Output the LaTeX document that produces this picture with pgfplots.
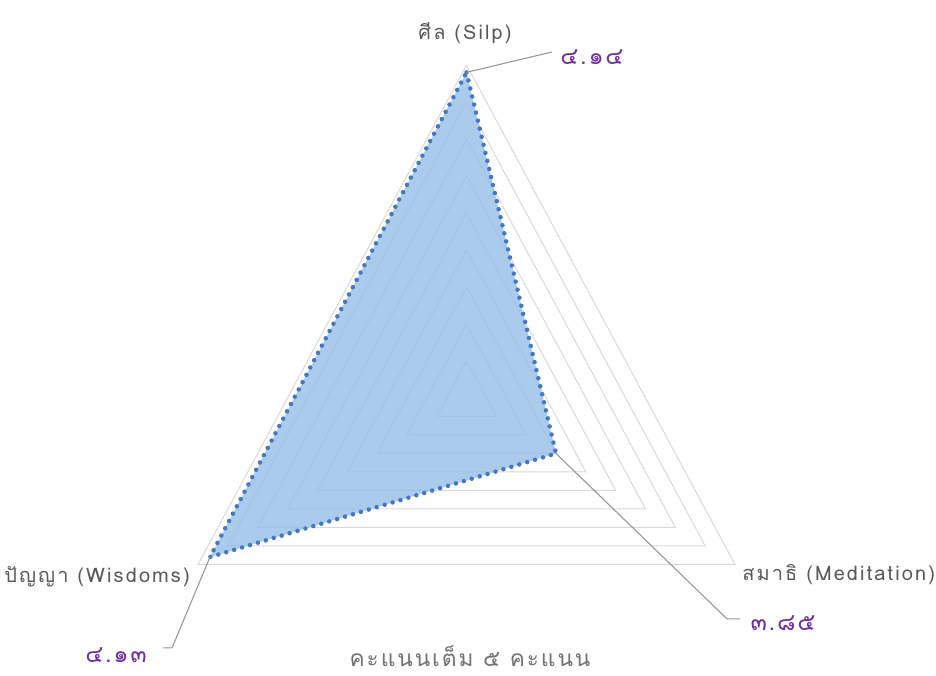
\documentclass[border=0pt]{standalone}
\usepackage{pgfplots}
\pgfplotsset{compat=1.18}
\usepackage{pgfplotstable}
\usepackage{fontspec}
\setmainfont[Script=Thai]{Loma}
\newfontfamily\labfont[Script=Thai, LetterSpace=10.5]{Loma}
\newfontfamily\valfont[Script=Thai, LetterSpace=7]{Loma}
\newfontfamily\titfont[Script=Thai, LetterSpace=8.5]{Loma}

\definecolor{gridc}{RGB}{217,217,217}
\definecolor{fillc}{RGB}{150,190,232}
\definecolor{dotc}{RGB}{70,120,190}
\definecolor{labc}{RGB}{89,89,89}
\definecolor{valc}{RGB}{112,48,160}
\definecolor{leadc}{RGB}{150,150,150}

% angle (deg), score; axis runs 3.70 .. 4.15 in steps of 0.05
\pgfplotstableread{
a    v
90   4.14
-30  3.85
210  4.13
90   4.14
}\scores

\begin{document}
\begin{tikzpicture}
\begin{axis}[
    width=702pt, height=507pt,
    scale only axis,
    axis lines=none,
    xmin=-0.6771, xmax=0.6814,
    ymin=-0.3757, ymax=0.5378,
    clip=false,
]
% triangular grid rings
\pgfplotsinvokeforeach{1,...,9}{
  \addplot[gridc, line width=0.75pt, line join=miter] coordinates {
    (0,{#1*0.05}) ({#1*0.05*cos(-30)},{#1*0.05*sin(-30)})
    ({#1*0.05*cos(210)},{#1*0.05*sin(210)}) (0,{#1*0.05})
  };
}

% score area
\addplot[draw=none, fill=fillc, fill opacity=0.8]
  table[x expr={(\thisrow{v}-3.7)*cos(\thisrow{a})},
        y expr={(\thisrow{v}-3.7)*sin(\thisrow{a})}] {\scores} -- cycle;
\addplot[dotc, line width=3.4pt, line cap=round, dash pattern=on 0pt off 6.2pt]
  table[x expr={(\thisrow{v}-3.7)*cos(\thisrow{a})},
        y expr={(\thisrow{v}-3.7)*sin(\thisrow{a})}] {\scores};

% leader lines
\draw[leadc, line width=0.8pt] (axis cs:0,0.44) -- (axis cs:0.1241,0.4676);
\draw[leadc, line width=0.8pt] (axis cs:0.1299,-0.075) -- (axis cs:0.3781,-0.2986) -- (axis cs:0.3970,-0.2986);
\draw[leadc, line width=0.8pt] (axis cs:-0.3724,-0.215) -- (axis cs:-0.4274,-0.3378) -- (axis cs:-0.4405,-0.3378);

% value labels
\begin{scope}[every node/.style={font=\valfont\fontsize{18}{20}\selectfont, text=valc, inner sep=0pt}]
\node at (axis cs:0.1821,0.4608) {๔.๑๔};
\node at (axis cs:0.4594,-0.3041) {๓.๘๕};
\node at (axis cs:-0.5087,-0.3473) {๔.๑๓};
\end{scope}

% category labels
\begin{scope}[every node/.style={font=\labfont\fontsize{15}{17}\selectfont, text=labc, inner sep=0pt}]
\node at (axis cs:-0.0022,0.4932) {ศีล (Silp)};
\node[anchor=east] at (axis cs:-0.4013,-0.2419) {ปัญญา (Wisdoms)};
\node[anchor=west] at (axis cs:0.3999,-0.2392) {สมาธิ (Meditation)};
\end{scope}

% title
\node[font=\titfont\fontsize{17}{19}\selectfont, text=labc!85, inner sep=0pt, anchor=base]
  at (axis cs:0.0051,-0.3635) {คะแนนเต็ม ๕ คะแนน};
\end{axis}
\pgfresetboundingbox
\path (current axis.south west) rectangle (current axis.north east);
\end{tikzpicture}
\end{document}
